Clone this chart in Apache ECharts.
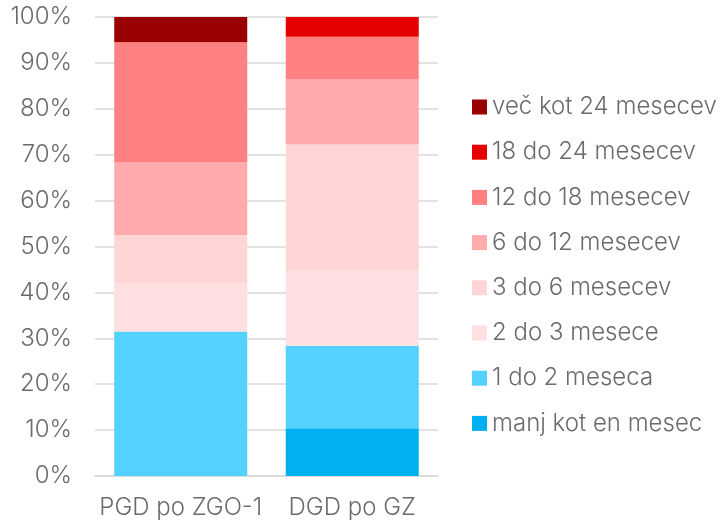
<!DOCTYPE html>
<html><head><meta charset="utf-8">
<script src="https://cdn.jsdelivr.net/npm/echarts@6/dist/echarts.min.js"></script>
<style>html,body{margin:0;padding:0;background:#fff}#c{width:723px;height:524px}</style>
</head><body><div id="c"></div>
<script>
const categories = ['PGD po ZGO-1', 'DGD po GZ'];
const seriesNames = ['manj kot en mesec','1 do 2 meseca','2 do 3 mesece','3 do 6 mesecev','6 do 12 mesecev','12 do 18 mesecev','18 do 24 mesecev','več kot 24 mesecev'];
const manjKotEnMesec = [0, 10.4];
const od1do2 = [31.5, 18.0];
const od2do3 = [10.5, 16.3];
const od3do6 = [10.5, 27.5];
const od6do12 = [15.8, 14.3];
const od12do18 = [26.2, 9.2];
const od18do24 = [0, 4.3];
const vecKot24 = [5.5, 0];
const yTicks = [0,10,20,30,40,50,60,70,80,90,100];

const values = [manjKotEnMesec, od1do2, od2do3, od3do6, od6do12, od12do18, od18do24, vecKot24];
const colors = ['#00B0F0','#55D1FF','#FFDFE0','#FFD5D5','#FFAAAD','#FF8080','#E60000','#990000'];
const font = 'Inter, "Noto Sans", sans-serif';
const txt = {fontFamily: font, fontSize: 24, fontWeight: 300, color: '#6b6b6b'};

const chart = echarts.init(document.getElementById('c'), null, {renderer:'canvas'});
chart.setOption({
  animation: false,
  color: colors,
  grid: {left: 95, right: 285, top: 17, bottom: 48, containLabel: false},
  legend: {
    orient: 'vertical',
    left: 467, top: 90, padding: 5,
    itemWidth: 15, itemHeight: 15, itemGap: 21.2,
    icon: 'rect',
    data: seriesNames.slice().reverse(),
    textStyle: Object.assign({}, txt, {lineHeight: 24})
  },
  xAxis: {
    type: 'category', data: categories,
    axisLine: {show: true, lineStyle: {color: '#d9d9d9', width: 1.5}},
    axisTick: {show: false},
    axisLabel: Object.assign({}, txt, {margin: 20, interval: 0, hideOverlap: false})
  },
  yAxis: {
    type: 'value', min: yTicks[0], max: yTicks[yTicks.length-1], interval: 10,
    axisLine: {show: false}, axisTick: {show: false},
    splitLine: {lineStyle: {color: '#d9d9d9', width: 1.5}},
    axisLabel: Object.assign({}, txt, {margin: 23, formatter: '{value}%'})
  },
  series: seriesNames.map((n, i) => ({
    name: n, type: 'bar', stack: 'total', barWidth: 133,
    data: values[i],
    itemStyle: {color: colors[i]}
  }))
});
</script></body></html>
